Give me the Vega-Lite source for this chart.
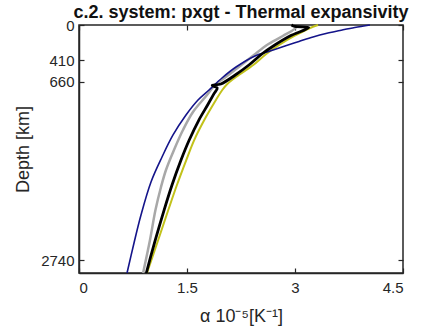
{
  "$schema": "https://vega.github.io/schema/vega-lite/v6.json",
  "width": 324,
  "height": 248,
  "autosize": {"type": "none"},
  "padding": {"left": 79, "top": 25, "right": 19, "bottom": 59},
  "background": "white",
  "config": {
    "font": "Liberation Sans",
    "view": {"stroke": "#262626", "strokeWidth": 1.5},
    "axis": {"grid": false, "domainColor": "#262626", "domainWidth": 1.5, "tickColor": "#262626", "tickWidth": 1.2, "labelColor": "#262626", "titleColor": "#262626", "labelFontSize": 15, "titleFontSize": 18, "titleFontWeight": "normal", "labelFont": "Liberation Sans", "titleFont": "Liberation Sans"}
  },
  "title": {"text": "c.2. system:  pxgt - Thermal expansivity", "fontSize": 18, "fontWeight": "bold", "font": "Liberation Sans", "color": "#111", "anchor": "middle", "frame": "group", "offset": -4},
  "datasets": {
    "curves": [
      {"s": "yellow", "depth": 0, "alpha": 3.32},
      {"s": "yellow", "depth": 35, "alpha": 3.21},
      {"s": "yellow", "depth": 128, "alpha": 2.99},
      {"s": "yellow", "depth": 233, "alpha": 2.78},
      {"s": "yellow", "depth": 338, "alpha": 2.6},
      {"s": "yellow", "depth": 466, "alpha": 2.42},
      {"s": "yellow", "depth": 583, "alpha": 2.22},
      {"s": "yellow", "depth": 688, "alpha": 2.06},
      {"s": "yellow", "depth": 758, "alpha": 1.99},
      {"s": "yellow", "depth": 933, "alpha": 1.86},
      {"s": "yellow", "depth": 1108, "alpha": 1.74},
      {"s": "yellow", "depth": 1341, "alpha": 1.6},
      {"s": "yellow", "depth": 1574, "alpha": 1.49},
      {"s": "yellow", "depth": 1865, "alpha": 1.36},
      {"s": "yellow", "depth": 2157, "alpha": 1.24},
      {"s": "yellow", "depth": 2506, "alpha": 1.1},
      {"s": "yellow", "depth": 2891, "alpha": 0.944},
      {"s": "gray", "depth": 0, "alpha": 2.96},
      {"s": "gray", "depth": 29, "alpha": 3.01},
      {"s": "gray", "depth": 128, "alpha": 2.83},
      {"s": "gray", "depth": 233, "alpha": 2.61},
      {"s": "gray", "depth": 350, "alpha": 2.43},
      {"s": "gray", "depth": 478, "alpha": 2.236},
      {"s": "gray", "depth": 595, "alpha": 2.056},
      {"s": "gray", "depth": 699, "alpha": 1.889},
      {"s": "gray", "depth": 816, "alpha": 1.778},
      {"s": "gray", "depth": 1014, "alpha": 1.583},
      {"s": "gray", "depth": 1224, "alpha": 1.444},
      {"s": "gray", "depth": 1457, "alpha": 1.319},
      {"s": "gray", "depth": 1690, "alpha": 1.208},
      {"s": "gray", "depth": 1888, "alpha": 1.139},
      {"s": "gray", "depth": 2157, "alpha": 1.062},
      {"s": "gray", "depth": 2506, "alpha": 0.986},
      {"s": "gray", "depth": 2891, "alpha": 0.89},
      {"s": "blue", "depth": 0, "alpha": 4.04},
      {"s": "blue", "depth": 29, "alpha": 3.83},
      {"s": "blue", "depth": 64, "alpha": 3.625},
      {"s": "blue", "depth": 99, "alpha": 3.43},
      {"s": "blue", "depth": 140, "alpha": 3.25},
      {"s": "blue", "depth": 192, "alpha": 3.056},
      {"s": "blue", "depth": 245, "alpha": 2.861},
      {"s": "blue", "depth": 303, "alpha": 2.653},
      {"s": "blue", "depth": 361, "alpha": 2.444},
      {"s": "blue", "depth": 490, "alpha": 2.181},
      {"s": "blue", "depth": 618, "alpha": 1.986},
      {"s": "blue", "depth": 758, "alpha": 1.806},
      {"s": "blue", "depth": 874, "alpha": 1.653},
      {"s": "blue", "depth": 1049, "alpha": 1.486},
      {"s": "blue", "depth": 1282, "alpha": 1.306},
      {"s": "blue", "depth": 1539, "alpha": 1.153},
      {"s": "blue", "depth": 1830, "alpha": 1.0},
      {"s": "blue", "depth": 2215, "alpha": 0.861},
      {"s": "blue", "depth": 2541, "alpha": 0.764},
      {"s": "blue", "depth": 2891, "alpha": 0.667},
      {"s": "black", "depth": 0, "alpha": 2.95},
      {"s": "black", "depth": 17, "alpha": 3.0},
      {"s": "black", "depth": 29, "alpha": 3.19},
      {"s": "black", "depth": 128, "alpha": 2.93},
      {"s": "black", "depth": 233, "alpha": 2.72},
      {"s": "black", "depth": 338, "alpha": 2.54},
      {"s": "black", "depth": 466, "alpha": 2.36},
      {"s": "black", "depth": 583, "alpha": 2.17},
      {"s": "black", "depth": 688, "alpha": 1.97},
      {"s": "black", "depth": 705, "alpha": 1.85},
      {"s": "black", "depth": 734, "alpha": 1.92},
      {"s": "black", "depth": 800, "alpha": 1.875},
      {"s": "black", "depth": 933, "alpha": 1.786},
      {"s": "black", "depth": 1108, "alpha": 1.665},
      {"s": "black", "depth": 1341, "alpha": 1.531},
      {"s": "black", "depth": 1574, "alpha": 1.417},
      {"s": "black", "depth": 1865, "alpha": 1.292},
      {"s": "black", "depth": 2157, "alpha": 1.182},
      {"s": "black", "depth": 2506, "alpha": 1.06},
      {"s": "black", "depth": 2891, "alpha": 0.935}
    ]
  },
  "data": {"name": "curves"},
  "resolve": {"axis": {"x": "independent", "y": "independent"}},
  "layer": [
    {
      "transform": [{"filter": "datum.s === 'yellow'"}],
      "mark": {"type": "line", "color": "#c2c21a", "strokeWidth": 2, "interpolate": "catmull-rom"},
      "encoding": {
        "x": {"field": "alpha", "type": "quantitative", "scale": {"domain": [0, 4.5], "nice": false, "zero": false},
          "axis": {"values": [0, 1.5, 3, 4.5], "format": ".1~f", "title": "α 10⁻⁵[K⁻¹]", "tickSize": -5, "labelPadding": 12, "titlePadding": 12}},
        "y": {"field": "depth", "type": "quantitative", "scale": {"domain": [0, 2891], "reverse": true, "nice": false, "zero": false},
          "axis": {"values": [0, 410, 660, 2740], "format": "d", "title": "Depth [km]", "tickSize": -5, "labelPadding": 10, "titlePadding": 8}},
        "order": {"field": "depth"}
      }
    },
    {
      "transform": [{"filter": "datum.s === 'gray'"}],
      "mark": {"type": "line", "color": "#a8a8a8", "strokeWidth": 2.5, "interpolate": "catmull-rom"},
      "encoding": {
        "x": {"field": "alpha", "type": "quantitative", "axis": {"orient": "top", "values": [0, 1.5, 3, 4.5], "labels": false, "title": null, "tickSize": -5, "domain": false}},
        "y": {"field": "depth", "type": "quantitative", "axis": {"orient": "right", "values": [0, 410, 660, 2740], "labels": false, "title": null, "tickSize": -5, "domain": false}},
        "order": {"field": "depth"}
      }
    },
    {
      "transform": [{"filter": "datum.s === 'blue'"}],
      "mark": {"type": "line", "color": "#14148a", "strokeWidth": 1.6, "interpolate": "catmull-rom"},
      "encoding": {
        "x": {"field": "alpha", "type": "quantitative", "axis": null},
        "y": {"field": "depth", "type": "quantitative", "axis": null},
        "order": {"field": "depth"}
      }
    },
    {
      "transform": [{"filter": "datum.s === 'black'"}],
      "mark": {"type": "line", "color": "#000000", "strokeWidth": 2.8, "interpolate": "catmull-rom"},
      "encoding": {
        "x": {"field": "alpha", "type": "quantitative", "axis": null},
        "y": {"field": "depth", "type": "quantitative", "axis": null},
        "order": {"field": "depth"}
      }
    }
  ]
}
